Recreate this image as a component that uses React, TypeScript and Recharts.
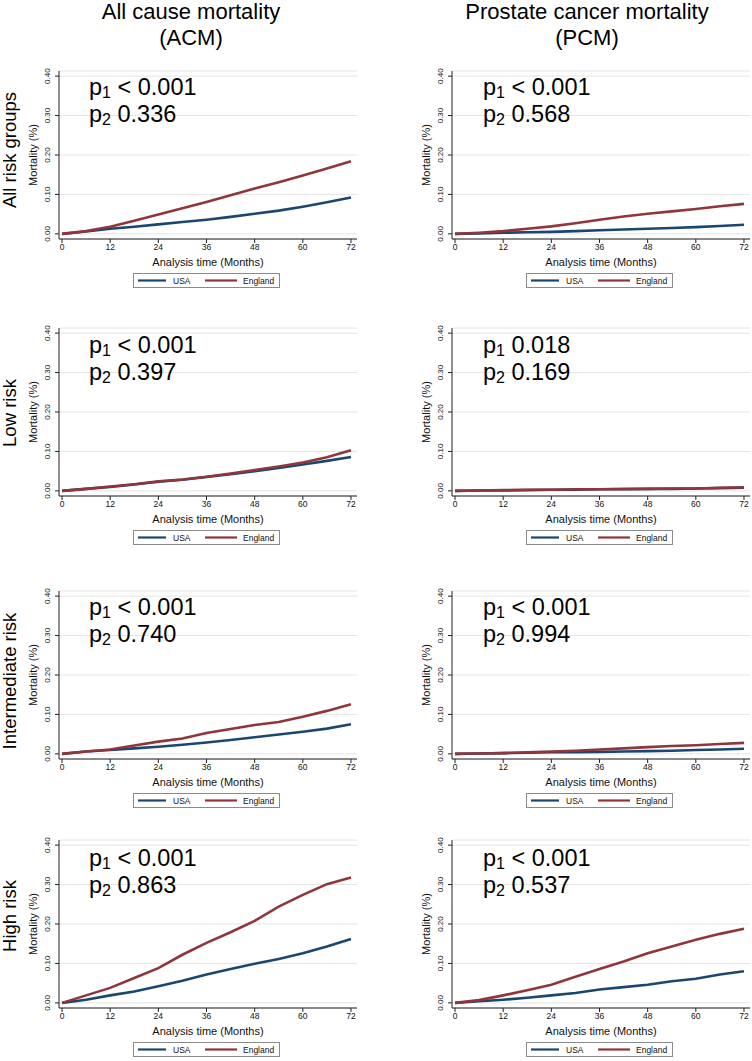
import { CartesianGrid, Line, LineChart, XAxis, YAxis } from "recharts";

/* ---------- data (cumulative mortality, fraction) ---------- */
const months = [0, 6, 12, 18, 24, 30, 36, 42, 48, 54, 60, 66, 72];
const xTicks = [0, 12, 24, 36, 48, 60, 72];
const yTicks = [0, 0.1, 0.2, 0.3, 0.4];

const columnTitles = [
  ["All cause mortality", "(ACM)"],
  ["Prostate cancer mortality", "(PCM)"],
];
const rowLabels = ["All risk groups", "Low risk", "Intermediate risk", "High risk"];
const seriesNames = ["USA", "England"];

// p values, row by row (ACM, PCM)
const p1Values = ["< 0.001", "< 0.001", "< 0.001", "0.018", "< 0.001", "< 0.001", "< 0.001", "< 0.001"];
const p2Values = ["0.336", "0.568", "0.397", "0.169", "0.740", "0.994", "0.863", "0.537"];

const acmAllUsa = [0, 0.006, 0.013, 0.018, 0.024, 0.030, 0.036, 0.043, 0.051, 0.059, 0.069, 0.080, 0.092];
const acmAllEngland = [0, 0.007, 0.018, 0.033, 0.049, 0.065, 0.081, 0.098, 0.115, 0.131, 0.148, 0.166, 0.184];
const pcmAllUsa = [0, 0.001, 0.003, 0.004, 0.005, 0.007, 0.009, 0.011, 0.013, 0.015, 0.017, 0.020, 0.023];
const pcmAllEngland = [0, 0.003, 0.007, 0.013, 0.019, 0.027, 0.036, 0.044, 0.051, 0.057, 0.063, 0.070, 0.076];

const acmLowUsa = [0, 0.005, 0.010, 0.016, 0.023, 0.028, 0.035, 0.042, 0.050, 0.058, 0.067, 0.076, 0.086];
const acmLowEngland = [0, 0.005, 0.011, 0.017, 0.024, 0.029, 0.036, 0.044, 0.053, 0.062, 0.072, 0.085, 0.103];
const pcmLowUsa = [0, 0.001, 0.001, 0.002, 0.003, 0.003, 0.004, 0.004, 0.005, 0.005, 0.006, 0.007, 0.008];
const pcmLowEngland = [0, 0.001, 0.002, 0.003, 0.003, 0.004, 0.004, 0.005, 0.005, 0.006, 0.006, 0.008, 0.009];

const acmIntUsa = [0, 0.006, 0.010, 0.014, 0.018, 0.023, 0.029, 0.035, 0.042, 0.049, 0.056, 0.064, 0.075];
const acmIntEngland = [0, 0.006, 0.011, 0.021, 0.031, 0.039, 0.053, 0.063, 0.073, 0.081, 0.094, 0.109, 0.126];
const pcmIntUsa = [0, 0.001, 0.002, 0.003, 0.004, 0.004, 0.005, 0.006, 0.007, 0.008, 0.010, 0.011, 0.013];
const pcmIntEngland = [0, 0.001, 0.002, 0.004, 0.006, 0.008, 0.011, 0.014, 0.017, 0.020, 0.022, 0.025, 0.028];

const acmHighUsa = [0, 0.008, 0.019, 0.029, 0.042, 0.056, 0.072, 0.086, 0.099, 0.111, 0.126, 0.143, 0.162];
const acmHighEngland = [0, 0.019, 0.038, 0.063, 0.088, 0.122, 0.152, 0.179, 0.208, 0.244, 0.274, 0.301, 0.318];
const pcmHighUsa = [0, 0.004, 0.008, 0.013, 0.019, 0.025, 0.034, 0.040, 0.046, 0.055, 0.061, 0.072, 0.080];
const pcmHighEngland = [0, 0.007, 0.019, 0.032, 0.046, 0.066, 0.086, 0.105, 0.126, 0.143, 0.160, 0.175, 0.188];

const panelSeries = [
  [acmAllUsa, acmAllEngland], [pcmAllUsa, pcmAllEngland],
  [acmLowUsa, acmLowEngland], [pcmLowUsa, pcmLowEngland],
  [acmIntUsa, acmIntEngland], [pcmIntUsa, pcmIntEngland],
  [acmHighUsa, acmHighEngland], [pcmHighUsa, pcmHighEngland],
];

/* ---------- look ---------- */
const FONT = '"Liberation Sans", Arial, Helvetica, sans-serif';
const NAVY = "#1a476f";
const MAROON = "#90353b";
const AXIS = "#222";

// y of the 0.40 gridline for each row, and the other per-row text positions
const ROW_TOP = [76, 333, 596, 845];
const ROW_LABEL_Y = [150, 413, 681, 916];
const P_BASELINE = [95, 353, 615, 866];

const COLS = [
  { left: 0, axisWidth: 59, right: 19, yTitle: 33, pX: 89, titleX: 191, legendLeft: 133 },
  { left: 376, axisWidth: 76, right: 2, yTitle: 50, pX: 483, titleX: 587, legendLeft: 150 },
];

function YTick(props: any) {
  const { x, y, payload } = props;
  return (
    <text
      x={x}
      y={y}
      dy="0.35em"
      transform={`rotate(-90, ${x}, ${y})`}
      textAnchor="middle"
      fontSize={8}
      fontFamily={FONT}
      fill="#111"
    >
      {Number(payload.value).toFixed(2)}
    </text>
  );
}

function PanelLegend({ left, top }: { left: number; top: number }) {
  return (
    <div
      style={{
        position: "absolute",
        left,
        top,
        width: 147,
        height: 15,
        boxSizing: "border-box",
        border: "1px solid #8a8a8a",
        background: "#fff",
      }}
    >
      <svg width={145} height={13} style={{ position: "absolute", left: 0, top: 0 }}>
        <line x1={4} x2={32} y1={6.5} y2={6.5} stroke={NAVY} strokeWidth={2.2} />
        <text x={39} y={9.5} fontSize={8.5} fontFamily={FONT} fill="#111">{seriesNames[0]}</text>
        <line x1={71} x2={103} y1={6.5} y2={6.5} stroke={MAROON} strokeWidth={2.2} />
        <text x={109} y={9.5} fontSize={8.5} fontFamily={FONT} fill="#111">{seriesNames[1]}</text>
      </svg>
    </div>
  );
}

function Panel({ row, col }: { row: number; col: number }) {
  const c = COLS[col];
  const [usa, england] = panelSeries[row * 2 + col];
  const data = months.map((m, i) => ({ month: m, usa: usa[i], england: england[i] }));
  const top = ROW_TOP[row] - 9;

  return (
    <div style={{ position: "absolute", left: c.left, top, width: 376, height: 230 }}>
      <LineChart
        width={376}
        height={204}
        data={data}
        margin={{ top: 4, right: c.right, bottom: 5, left: 0 }}
      >
        <CartesianGrid vertical={false} stroke="#e4e4e4" strokeWidth={1} />
        <XAxis
          type="number"
          dataKey="month"
          domain={[-0.75, 73.5]}
          ticks={xTicks}
          interval={0}
          height={27}
          tickSize={4}
          tickMargin={1}
          stroke={AXIS}
          tick={{ fontSize: 8.5, fill: "#111", fontFamily: FONT }}
          label={{
            value: "Analysis time (Months)",
            position: "insideBottom",
            offset: 0,
            fontSize: 11,
            fill: "#111",
            fontFamily: FONT,
          }}
        />
        <YAxis
          type="number"
          domain={[-0.013, 0.413]}
          ticks={yTicks}
          interval={0}
          width={c.axisWidth}
          tickSize={4}
          tickMargin={8}
          stroke={AXIS}
          tick={(p: any) => <YTick {...p} />}
          label={{
            value: "Mortality (%)",
            angle: -90,
            position: "insideLeft",
            offset: c.yTitle,
            fontSize: 11,
            fill: "#111",
            fontFamily: FONT,
            style: { textAnchor: "middle" },
          }}
        />
        <Line
          type="linear"
          dataKey="usa"
          name={seriesNames[0]}
          stroke={NAVY}
          strokeWidth={2.6}
          dot={false}
          isAnimationActive={false}
        />
        <Line
          type="linear"
          dataKey="england"
          name={seriesNames[1]}
          stroke={MAROON}
          strokeWidth={2.6}
          dot={false}
          isAnimationActive={false}
        />
      </LineChart>
      <PanelLegend left={c.legendLeft} top={206} />
    </div>
  );
}

export default function App() {
  return (
    <div
      style={{
        position: "absolute",
        left: 0,
        top: 0,
        width: 752,
        height: 1061,
        background: "#fff",
        overflow: "hidden",
        fontFamily: FONT,
      }}
    >
      {rowLabels.map((_, r) =>
        COLS.map((_, c) => <Panel key={`${r}-${c}`} row={r} col={c} />)
      )}

      {/* titles, row labels and p values */}
      <svg
        width={752}
        height={1061}
        style={{ position: "absolute", left: 0, top: 0, pointerEvents: "none" }}
        fontFamily={FONT}
      >
        {columnTitles.map((t, c) => (
          <g key={t[0]}>
            <text x={COLS[c].titleX} y={19} textAnchor="middle" fontSize={22} fill="#000">{t[0]}</text>
            <text x={COLS[c].titleX} y={45} textAnchor="middle" fontSize={22} fill="#000">{t[1]}</text>
          </g>
        ))}
        {rowLabels.map((label, r) => (
          <text
            key={label}
            transform={`translate(10, ${ROW_LABEL_Y[r]}) rotate(-90)`}
            dy="0.35em"
            textAnchor="middle"
            fontSize={18.5}
            fill="#000"
          >
            {label}
          </text>
        ))}
        {rowLabels.map((_, r) =>
          COLS.map((c, ci) => (
            <g key={`p-${r}-${ci}`} fontSize={23.5} fill="#000">
              <text x={c.pX} y={P_BASELINE[r]}>
                p<tspan fontSize={16} dy={3}>1</tspan>
                <tspan dy={-3}>{" " + p1Values[r * 2 + ci]}</tspan>
              </text>
              <text x={c.pX} y={P_BASELINE[r] + 27}>
                p<tspan fontSize={16} dy={3}>2</tspan>
                <tspan dy={-3}>{" " + p2Values[r * 2 + ci]}</tspan>
              </text>
            </g>
          ))
        )}
      </svg>
    </div>
  );
}
